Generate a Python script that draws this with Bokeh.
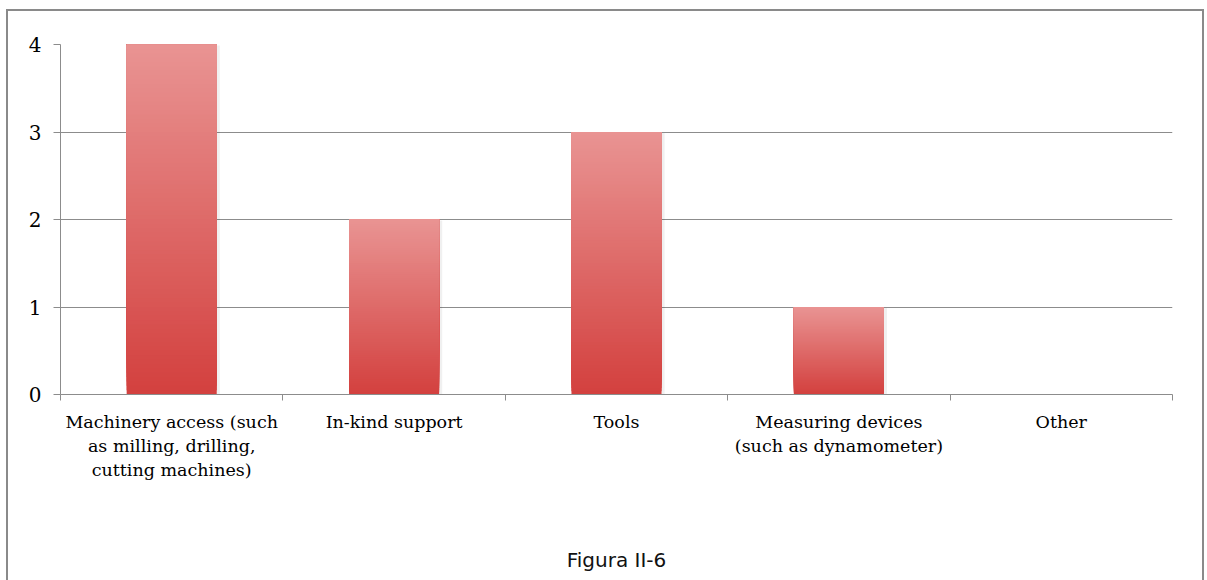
from bokeh.plotting import figure
from bokeh.models import Range1d, FixedTicker
from bokeh.embed import file_html
from bokeh.resources import INLINE

# ---- data ----
categories = [
    "Machinery access (such\nas milling, drilling,\ncutting machines)",
    "In-kind support",
    "Tools",
    "Measuring devices\n(such as dynamometer)",
    "Other",
]
values = [4, 2, 3, 1, 0]
y_ticks = [0, 1, 2, 3, 4]
caption = "Figura II-6"

# ---- style ----
GRAY = "#8c8c8c"
TOP_RGB = (233, 148, 147)
BOT_RGB = (211, 64, 62)
N = 80
BAR_W = 0.405

p = figure(width=1198, height=571, output_backend="svg", toolbar_location=None,
           x_range=Range1d(0, len(categories)), y_range=Range1d(0, max(y_ticks)),
           min_border_left=52, min_border_right=34, min_border_top=33, min_border_bottom=188)
p.styles = {"margin-left": "6px", "margin-top": "9px",
            "border-left": "2px solid #8a8a8a", "border-top": "2px solid #8a8a8a",
            "border-right": "2px solid #8a8a8a"}
p.outline_line_color = None
p.background_fill_color = "white"
p.border_fill_color = "white"

# gradient bars built from overlapping slices of each value
lefts, rights, bottoms, tops, colors = [], [], [], [], []
for i, v in enumerate(values):
    if v <= 0:
        continue
    c = i + 0.5
    for k in range(N):
        t = (k + 0.5) / N
        r = round(BOT_RGB[0] + (TOP_RGB[0] - BOT_RGB[0]) * t)
        g = round(BOT_RGB[1] + (TOP_RGB[1] - BOT_RGB[1]) * t)
        b = round(BOT_RGB[2] + (TOP_RGB[2] - BOT_RGB[2]) * t)
        lefts.append(c - BAR_W / 2)
        rights.append(c + BAR_W / 2)
        bottoms.append(v * k / N)
        tops.append(v)
        colors.append("#%02x%02x%02x" % (r, g, b))

# soft shadow
sx = [i + 0.5 for i, v in enumerate(values) if v > 0]
sv = [v for v in values if v > 0]
p.quad(left=[c + BAR_W / 2 for c in sx], right=[c + BAR_W / 2 + 0.014 for c in sx],
       bottom=[0] * len(sv), top=[v - 0.01 for v in sv],
       fill_color="#000000", fill_alpha=0.06, line_color=None)
p.quad(left=lefts, right=rights, bottom=bottoms, top=tops, fill_color=colors, line_color=None)

# y axis
p.yaxis.ticker = FixedTicker(ticks=y_ticks)
p.yaxis.axis_line_color = GRAY
p.yaxis.major_tick_line_color = GRAY
p.yaxis.major_tick_out = 7
p.yaxis.major_tick_in = 0
p.yaxis.minor_tick_line_color = None
p.yaxis.major_label_standoff = 12
p.yaxis.major_label_text_font = "DejaVu Serif"
p.yaxis.major_label_text_font_size = "20px"
p.yaxis.major_label_text_color = "#000000"

# x axis: labels at centers, ticks at boundaries (minor ticks)
p.xaxis.ticker = FixedTicker(ticks=[i + 0.5 for i in range(len(categories))],
                             minor_ticks=list(range(len(categories) + 1)))
p.xaxis.major_label_overrides = {i + 0.5: lab for i, lab in enumerate(categories)}
p.xaxis.axis_line_color = GRAY
p.xaxis.major_tick_line_color = None
p.xaxis.major_tick_out = 0
p.xaxis.major_tick_in = 0
p.xaxis.minor_tick_line_color = GRAY
p.xaxis.minor_tick_out = 6
p.xaxis.minor_tick_in = 0
p.xaxis.major_label_standoff = 11
p.xaxis.major_label_text_font = "DejaVu Serif"
p.xaxis.major_label_text_font_size = "17.5px"
p.xaxis.major_label_text_color = "#000000"
p.xaxis.major_label_text_line_height = 1.22

# caption drawn as the x axis label
p.xaxis.axis_label = caption
p.xaxis.axis_label_standoff = 65
p.xaxis.axis_label_text_font = "DejaVu Sans"
p.xaxis.axis_label_text_font_size = "20px"
p.xaxis.axis_label_text_font_style = "normal"
p.xaxis.axis_label_text_color = "#111111"

p.xgrid.grid_line_color = None
p.ygrid.ticker = FixedTicker(ticks=y_ticks)
p.ygrid.grid_line_color = GRAY
p.ygrid.grid_line_width = 1

open("out.html", "w").write(file_html(p, INLINE))
